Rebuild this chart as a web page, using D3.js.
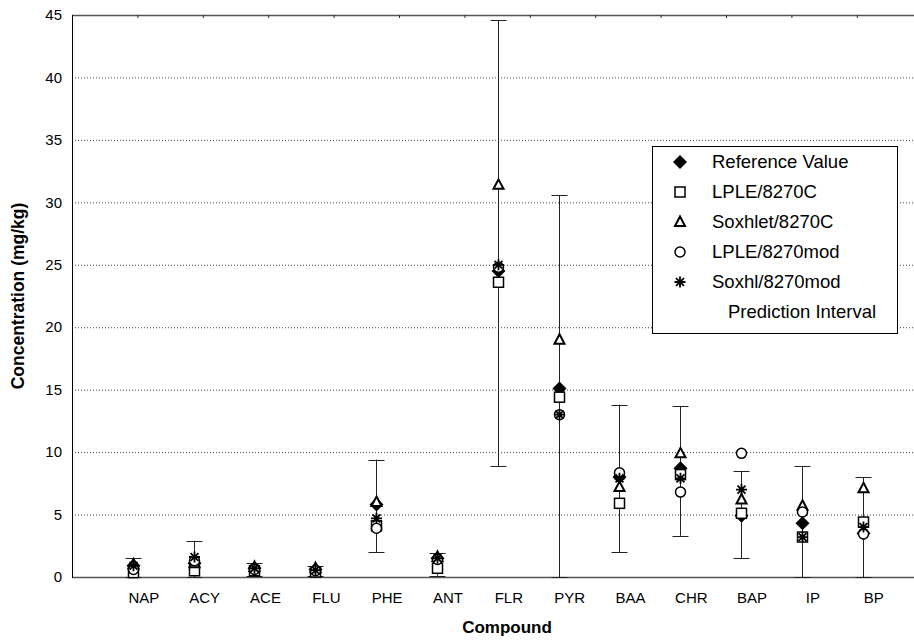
<!DOCTYPE html>
<html><head><meta charset="utf-8">
<script src="https://cdn.jsdelivr.net/npm/d3@7"></script>
<style>
body{margin:0;background:#fff}
svg{display:block}
text{font-family:Arial,"Liberation Sans",sans-serif;fill:#000}
</style>
</head><body>
<svg id="c" width="914" height="640"></svg>
<script>
const compounds = ["NAP","ACY","ACE","FLU","PHE","ANT","FLR","PYR","BAA","CHR","BAP","IP","BP"];
const referenceValue = [0.9, 1.1, 0.7, 0.6, 5.8, 1.5, 24.5, 15.1, 8.0, 8.7, 4.9, 4.3, 3.5];
const lple8270C      = [0.35, 0.5, 0.5, 0.4, 4.1, 0.7, 23.6, 14.4, 5.9, 8.2, 5.1, 3.2, 4.4];
const soxhlet8270C   = [1.0, 1.1, 0.8, 0.7, 6.0, 1.6, 31.4, 19.0, 7.2, 9.9, 6.2, 5.7, 7.1];
const lple8270mod    = [0.6, 1.3, 0.6, 0.5, 3.9, 1.4, 24.8, 13.0, 8.35, 6.8, 9.9, 5.2, 3.45];
const soxhl8270mod   = [0.9, 1.6, 0.7, 0.55, 4.7, 1.5, 25.0, 13.0, 7.9, 7.9, 7.0, 3.2, 4.0];
const piLow          = [0, 0, 0.1, 0.1, 2.0, 0.1, 8.9, 0, 2.0, 3.3, 1.5, 0, 0];
const piHigh         = [1.5, 2.9, 1.1, 0.9, 9.4, 1.9, 44.6, 30.6, 13.8, 13.7, 8.5, 8.9, 8.0];
const yTicks = [0, 5, 10, 15, 20, 25, 30, 35, 40, 45];
const topTicks = [0, 1, 2, 3, 4, 5, 6, 7, 8, 9, 10, 11, 12, 13];
const legendLabels = ["Reference Value","LPLE/8270C","Soxhlet/8270C","LPLE/8270mod","Soxhl/8270mod","Prediction Interval"];

(function () {
const svg = d3.select("#c");
const left = 72, plotTop = 15, plotBottom = 577, rightEdge = 914;
const x = d3.scaleLinear().domain([0, 14]).range([left, left + 60.83 * 14]);
const xTop = d3.scaleLinear().domain([0, 13]).range([left, left + 65.4 * 13]);
const y = d3.scaleLinear().domain([0, 45]).range([plotBottom, plotTop]);

svg.append("g").selectAll("line").data(yTicks.filter(t => t > 0 && t < 45)).join("line")
  .attr("x1", left).attr("x2", rightEdge)
  .attr("y1", d => y(d) + 0.5).attr("y2", d => y(d) + 0.5)
  .attr("stroke", "#444").attr("stroke-width", 1).attr("stroke-dasharray", "1,2");

svg.append("line").attr("x1", left).attr("x2", rightEdge).attr("y1", y(45) + 0.5).attr("y2", y(45) + 0.5)
  .attr("stroke", "#555").attr("stroke-width", 1.3);
svg.append("g").selectAll("line").data(topTicks.filter(t => t > 0)).join("line")
  .attr("x1", d => xTop(d) + 0.5).attr("x2", d => xTop(d) + 0.5)
  .attr("y1", y(45)).attr("y2", y(45) + 3).attr("stroke", "#333");

svg.append("line").attr("x1", left).attr("x2", rightEdge).attr("y1", y(0) + 0.5).attr("y2", y(0) + 0.5)
  .attr("stroke", "#555").attr("stroke-width", 1.4);
svg.append("line").attr("x1", left + 0.5).attr("x2", left + 0.5).attr("y1", y(45)).attr("y2", y(0) + 1)
  .attr("stroke", "#000").attr("stroke-width", 1);

svg.append("g").selectAll("text").data(yTicks).join("text")
  .attr("x", left - 10).attr("y", d => y(d)).attr("dy", "0.35em")
  .attr("text-anchor", "end").attr("font-size", 15).text(d => d);

svg.append("g").selectAll("text").data(compounds).join("text")
  .attr("x", (d, i) => x(i + 1) + 11).attr("y", 603)
  .attr("text-anchor", "middle").attr("font-size", 15).text(d => d);

svg.append("text").attr("x", 507).attr("y", 633).attr("text-anchor", "middle")
  .attr("font-size", 17).attr("font-weight", "bold").text("Compound");
svg.append("text").attr("transform", "translate(24,296) rotate(-90)").attr("text-anchor", "middle")
  .attr("font-size", 17.5).attr("font-weight", "bold").text("Concentration (mg/kg)");

const pi = svg.append("g").attr("stroke", "#222").attr("stroke-width", 1);
compounds.forEach((c, i) => {
  const cx = Math.round(x(i + 1)) + 0.5;
  pi.append("line").attr("x1", cx).attr("x2", cx).attr("y1", y(piLow[i])).attr("y2", y(piHigh[i]));
  pi.append("line").attr("x1", cx - 8).attr("x2", cx + 8).attr("y1", Math.round(y(piHigh[i])) + 0.5).attr("y2", Math.round(y(piHigh[i])) + 0.5);
  pi.append("line").attr("x1", cx - 8).attr("x2", cx + 8).attr("y1", Math.round(y(piLow[i])) + 0.5).attr("y2", Math.round(y(piLow[i])) + 0.5);
});

function drawMarker(g, type, cx, cy) {
  if (type === "diamond") {
    g.append("path").attr("d", `M${cx},${cy-7}L${cx+7},${cy}L${cx},${cy+7}L${cx-7},${cy}Z`).attr("fill", "#000");
  } else if (type === "square") {
    g.append("rect").attr("x", cx - 5).attr("y", cy - 5).attr("width", 10).attr("height", 10)
      .attr("fill", "#fff").attr("stroke", "#000").attr("stroke-width", 1.5);
  } else if (type === "triangle") {
    g.append("path").attr("d", `M${cx},${cy-5.5}L${cx+5},${cy+4}L${cx-5},${cy+4}Z`)
      .attr("fill", "#fff").attr("stroke", "#000").attr("stroke-width", 2).attr("stroke-linejoin", "miter");
  } else if (type === "circle") {
    g.append("circle").attr("cx", cx).attr("cy", cy).attr("r", 5)
      .attr("fill", "#fff").attr("stroke", "#000").attr("stroke-width", 1.5);
  } else if (type === "asterisk") {
    const r = 5.5, d = r * 0.72;
    const p = `M${cx},${cy-r}L${cx},${cy+r}M${cx-d},${cy-d}L${cx+d},${cy+d}M${cx-d},${cy+d}L${cx+d},${cy-d}M${cx-r},${cy}L${cx+r},${cy}`;
    g.append("path").attr("d", p).attr("stroke", "#000").attr("stroke-width", 1.8).attr("fill", "none");
  }
}

const seriesList = [
  {type: "diamond", values: referenceValue},
  {type: "square", values: lple8270C},
  {type: "triangle", values: soxhlet8270C},
  {type: "circle", values: lple8270mod},
  {type: "asterisk", values: soxhl8270mod}
];
const mg = svg.append("g");
seriesList.forEach(s => {
  s.values.forEach((v, i) => drawMarker(mg, s.type, Math.round(x(i + 1)) + 0.5, y(v)));
});

const lg = svg.append("g");
lg.append("rect").attr("x", 652.5).attr("y", 146.5).attr("width", 245).attr("height", 187)
  .attr("fill", "#fff").attr("stroke", "#000").attr("stroke-width", 1);
seriesList.forEach((s, k) => {
  drawMarker(lg, s.type, 680, 162 + 30 * k);
});
legendLabels.forEach((t, k) => {
  lg.append("text").attr("x", k === 5 ? 728 : 712).attr("y", 162 + 30 * k).attr("dy", "0.35em")
    .attr("font-size", 18.5).text(t);
});
})();
</script>
</body></html>
